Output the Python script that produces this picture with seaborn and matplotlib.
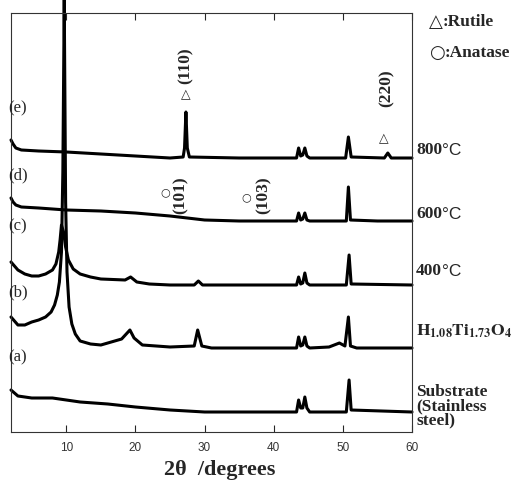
import matplotlib
matplotlib.use("Agg")
import matplotlib.pyplot as plt
import seaborn as sns
import pandas as pd

# 2theta positions and intensities (stacked, offset units)
tt_e = [2.0, 2.3, 2.7, 3.5, 6, 10, 15, 20, 25, 26.9, 27.1, 27.3, 27.5, 27.8, 35, 43.3, 43.6, 43.9, 44.2, 44.5, 44.8, 45.2, 50.4, 50.8, 51.2, 56.0, 56.5, 57.0, 60]
I_e = [292, 288, 284, 282, 281, 280, 278, 276, 274, 275, 284, 320, 284, 275, 274, 274, 284, 276, 277, 284, 276, 274, 274, 295, 275, 274, 279, 274, 274]

tt_d = [2.0, 2.3, 2.7, 3.5, 6, 10, 15, 20, 25, 30, 35, 43.3, 43.6, 43.9, 44.2, 44.5, 44.8, 45.2, 50.5, 50.8, 51.1, 55, 60]
I_d = [234, 230, 227, 225, 224, 222, 221, 219, 216, 212, 211, 211, 219, 212, 213, 219, 212, 211, 211, 245, 212, 211, 211]

tt_c = [2.0, 3, 4, 5, 6, 7, 8.0, 8.5, 8.9, 9.1, 9.3, 9.6, 9.9, 10.3, 11, 12, 13.5, 15, 18.5, 19.3, 20.2, 22, 25, 28.5, 29.1, 29.7, 31,
        43.3, 43.6, 43.9, 44.2, 44.5, 44.8, 45.2, 50.5, 50.9, 51.2, 60]
I_c = [170, 162, 158, 156, 156, 158, 162, 168, 180, 192, 207, 200, 185, 172, 163, 158, 155, 153, 152, 155, 150, 148, 147, 147, 151, 147, 147,
       147, 155, 148, 149, 159, 149, 147, 147, 177, 148, 147]

tt_b = [2.0, 3, 4, 5, 6, 7, 7.8, 8.3, 8.7, 9.0, 9.3, 9.5, 9.7, 9.9, 10.1, 10.4, 10.8, 11.3, 12, 13.5, 15, 18, 19.2, 19.8, 21, 25,
        28.5, 29.0, 29.6, 31, 43.3, 43.6, 43.9, 44.2, 44.5, 44.8, 45.2, 48, 49.5, 50.3, 50.8, 51.1, 52, 60]
I_b = [115, 107, 107, 110, 112, 115, 120, 127, 137, 150, 180, 260, 432, 230, 160, 125, 108, 98, 91, 88, 87, 93, 102, 94, 87, 85,
       86, 102, 86, 84, 84, 95, 86, 87, 95, 86, 84, 85, 89, 86, 115, 86, 84, 84]

tt_a = [2.0, 2.5, 3, 5, 8, 12, 16, 20, 25, 30, 35, 43.3, 43.6, 43.9, 44.2, 44.5, 44.8, 45.2, 50.5, 50.9, 51.2, 60]
I_a = [42, 39, 36, 34, 34, 30, 28, 25, 22, 20, 20, 20, 32, 24, 24, 35, 24, 20, 20, 52, 22, 20]

letters = ["(e)", "(d)", "(c)", "(b)", "(a)"]
letter_y = [324, 257, 206, 140, 75]
right_y = [284, 220, 163, 101, 26]
temps = ["800", "600", "400"]

sns.set_style("ticks")
plt.rcParams["mathtext.fontset"] = "stix"
plt.rcParams["font.family"] = ["Liberation Sans", "DejaVu Sans"]

fig = plt.figure(figsize=(5.16, 4.84), dpi=100)
ax = fig.add_axes([11 / 516, 52 / 484, 401 / 516, 419 / 484])

traces = [(tt_e, I_e), (tt_d, I_d), (tt_c, I_c), (tt_b, I_b), (tt_a, I_a)]
for tt, inten in traces:
    df = pd.DataFrame({"tt": tt, "I": inten})
    sns.lineplot(data=df, x="tt", y="I", ax=ax, color="black", lw=2.2,
                 sort=False, clip_on=False)

ax.set_xlim(2, 60)
ax.set_ylim(0, 419)
ax.set_yticks([])
ax.set_ylabel("")
ax.set_xticks([10, 20, 30, 40, 50, 60])
ax.tick_params(axis="x", direction="in", top=True, length=5, width=0.8,
               labelsize=8.5, labelcolor="#333333", pad=7)
for sp in ax.spines.values():
    sp.set_linewidth(0.8)
    sp.set_color("#333333")

ax.set_xlabel("2θ  /degrees", fontsize=16, fontweight="bold", family="Liberation Serif")
ax.xaxis.set_label_coords(0.52, -0.068)

serif = "Liberation Serif"
sym = "DejaVu Sans"

# left letters
for lab, y in zip(letters, letter_y):
    ax.text(1.6, y, lab, fontsize=12, family=serif, ha="left", va="center")

# right labels: bold serif number + plain sans degree sign
for t, y in zip(temps, right_y[:3]):
    t1 = ax.text(60.6, y - 6, t, fontsize=12.5, family=serif, fontweight="bold",
                 ha="left", va="baseline")
    ax.annotate("°C", xy=(1, 0), xycoords=t1, fontsize=12.5, family="Liberation Sans",
                ha="left", va="bottom")
ax.text(60.6, right_y[3], r"$\mathbf{H_{1.08}Ti_{1.73}O_{4}}$", fontsize=12.5, ha="left", va="center")
ax.text(60.6, right_y[4], "Substrate\n(Stainless\nsteel)", fontsize=12.5, family=serif,
        fontweight="bold", ha="left", va="center", linespacing=0.85)

# peak markers
ax.text(27.3, 337, "△", fontsize=9, family=sym, ha="center", va="center")
ax.text(27.3, 366, "(110)", fontsize=12.5, family=serif, fontweight="bold",
        rotation=90, ha="center", va="center")
ax.text(24.3, 240, "○", fontsize=8, family=sym, ha="center", va="center")
ax.text(26.6, 237, "(101)", fontsize=12.5, family=serif, fontweight="bold",
        rotation=90, ha="center", va="center")
ax.text(36.1, 235, "○", fontsize=8, family=sym, ha="center", va="center")
ax.text(38.6, 237, "(103)", fontsize=12.5, family=serif, fontweight="bold",
        rotation=90, ha="center", va="center")
ax.text(55.9, 293, "△", fontsize=9, family=sym, ha="center", va="center")
ax.text(56.4, 344, "(220)", fontsize=12.5, family=serif, fontweight="bold",
        rotation=90, ha="center", va="center")

# legend text
for sym_char, name, py in [("△", ":Rutile", 22), ("○", ":Anatase", 53)]:
    s1 = fig.text(429 / 516, 1 - py / 484, sym_char, fontsize=13, family=sym,
                  ha="left", va="center")
    ax.annotate(name, xy=(1, 0.5), xycoords=s1, fontsize=12.5, family=serif,
                fontweight="bold", ha="left", va="center", annotation_clip=False)

fig.savefig("out.png", dpi=100)
